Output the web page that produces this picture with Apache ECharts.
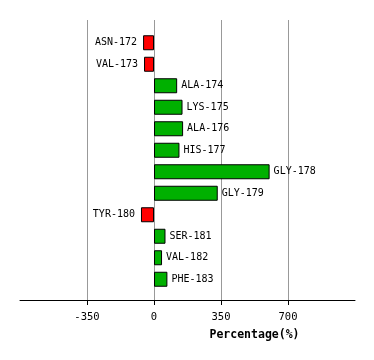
<!DOCTYPE html>
<html><head><meta charset="utf-8">
<script src="https://cdn.jsdelivr.net/npm/echarts@6/dist/echarts.min.js"></script>
<style>html,body{margin:0;padding:0;background:#fff}#c{width:374px;height:360px}</style>
</head><body><div id="c"></div>
<script>
var categories = ['ASN-172','VAL-173','ALA-174','LYS-175','ALA-176','HIS-177','GLY-178','GLY-179','TYR-180','SER-181','VAL-182','PHE-183'];
var values = [-57, -52, 121, 149, 152, 133, 604, 333, -68, 60, 42, 70];
var tickValues = [-350, 0, 350, 700];
var axisMin = -700, axisMax = 1050, axisStep = 350;
var axisTitle = 'Percentage(%)';

var font = 'DejaVu Sans Mono';
var data = values.map(function (v) {
  return {
    value: v,
    itemStyle: { color: v < 0 ? '#ff0000' : '#00b000' },
    label: { position: v < 0 ? 'left' : 'right', distance: v < 0 ? 6 : 4 }
  };
});

var chart = echarts.init(document.getElementById('c'), null, { renderer: 'canvas' });
chart.setOption({
  animation: false,
  backgroundColor: '#ffffff',
  grid: [
    { left: 20, right: 19, top: 20, bottom: 60, containLabel: false },
    { left: 20, right: 19, top: 32, bottom: 70, containLabel: false }
  ],
  xAxis: [
    {
      gridIndex: 0, type: 'value', min: axisMin, max: axisMax, interval: axisStep,
      axisLine: { show: true, lineStyle: { color: '#000', width: 1 } },
      axisTick: { show: true, length: 5, lineStyle: { color: '#000' }, customValues: tickValues },
      axisLabel: { customValues: tickValues, color: '#000', fontFamily: font, fontSize: 10.5, margin: 12 },
      splitLine: { show: true, showMinLine: true, showMaxLine: true, lineStyle: { color: '#999', width: 1 } }
    },
    {
      gridIndex: 1, type: 'value', min: axisMin, max: axisMax, interval: axisStep,
      show: false, splitLine: { show: false }
    }
  ],
  yAxis: [
    { gridIndex: 0, type: 'value', show: false, splitLine: { show: false } },
    {
      gridIndex: 1, type: 'category', data: categories, inverse: true, show: false
    }
  ],
  series: [{
    type: 'bar', xAxisIndex: 1, yAxisIndex: 1,
    data: data, barWidth: 15,
    itemStyle: { borderColor: '#000', borderWidth: 1 },
    label: {
      show: true, formatter: function (p) { return p.name; },
      color: '#000', fontFamily: font, fontSize: 10
    }
  }],
  graphic: [{
    type: 'text', x: 254.5, y: 335,
    style: { text: axisTitle, font: 'bold 11.5px "DejaVu Sans Mono"', fill: '#000', textAlign: 'center', textVerticalAlign: 'middle' }
  }]
});
</script></body></html>
